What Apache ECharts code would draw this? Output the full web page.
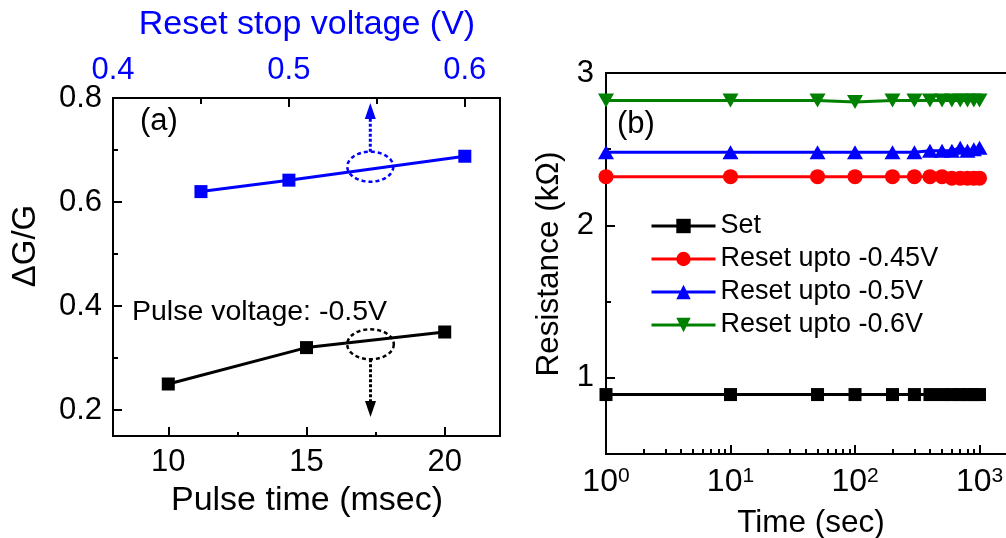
<!DOCTYPE html>
<html>
<head>
<meta charset="utf-8">
<script src="https://cdn.jsdelivr.net/npm/echarts@6/dist/echarts.min.js"></script>
<style>
html, body { margin: 0; padding: 0; background: #fff; }
#main { width: 1006px; height: 538px; }
</style>
</head>
<body>
<div id="main"></div>
<script>
// (a) dG/G vs pulse time (black) and vs reset stop voltage (blue)
var pulseTimes = [10, 15, 20];
var dgPulse = [0.25, 0.32, 0.35];
var stopVoltages = [0.45, 0.5, 0.6];
var dgReset = [0.62, 0.642, 0.688];

// (b) resistance vs time
var times = [1, 10, 50, 100, 200, 300, 400, 500, 600, 700, 800, 900, 1000];
var rSet = [0.89, 0.89, 0.89, 0.89, 0.89, 0.89, 0.89, 0.89, 0.89, 0.89, 0.89, 0.89, 0.89];
var rReset045 = [2.32, 2.32, 2.32, 2.32, 2.32, 2.32, 2.32, 2.32, 2.31, 2.31, 2.31, 2.31, 2.31];
var rReset05 = [2.48, 2.48, 2.48, 2.48, 2.48, 2.48, 2.49, 2.49, 2.49, 2.51, 2.49, 2.50, 2.51];
var rReset06 = [2.82, 2.82, 2.82, 2.81, 2.82, 2.82, 2.82, 2.82, 2.82, 2.82, 2.82, 2.82, 2.82];
var seriesNames = ['Set', 'Reset upto -0.45V', 'Reset upto -0.5V', 'Reset upto -0.6V'];

// tick values
var pulseTicks = [10, 15, 20];
var pulseMinor = [12.5, 17.5];
var voltTicks = [0.4, 0.5, 0.6];
var voltMinor = [0.45, 0.55];
var dgTicks = [0.2, 0.4, 0.6, 0.8];
var dgMinor = [0.3, 0.5, 0.7];
var resTicks = [1, 2, 3];
var resMinor = [1.5, 2.5];
var timeTicks = [1, 10, 100, 1000];
var timeMinor = [2, 3, 4, 5, 6, 7, 8, 9, 20, 30, 40, 50, 60, 70, 80, 90, 200, 300, 400, 500, 600, 700, 800, 900];
var timeMax = 2000;

var FONT = '"Liberation Sans", Arial, sans-serif';
var BLUE = '#0000ff', RED = '#ff0000', GREEN = '#008000';

function zip(xs, ys) {
  return xs.map(function (x, i) { return [x, ys[i]]; });
}
function log10(v) { return Math.log(v) / Math.LN10; }

// axis with ticks inside; labels optional
function axis(type, grid, pos, min, max, ticks, len, showLine, label) {
  var a = {
    type: type, gridIndex: grid, position: pos, min: min, max: max,
    axisLine: { show: showLine, onZero: false, lineStyle: { color: '#000', width: 2 } },
    axisTick: { show: true, inside: true, length: len, lineStyle: { color: '#000', width: 2 } },
    axisLabel: { show: false },
    splitLine: { show: false }
  };
  if (ticks) a.axisTick.customValues = ticks;
  if (label) {
    a.axisLabel = Object.assign({
      show: true, fontSize: 31, fontFamily: FONT, color: '#000', margin: 11
    }, label);
    if (ticks) a.axisLabel.customValues = ticks;
  }
  return a;
}

function ellipse(cx, cy, rx, ry, color) {
  var pts = [];
  for (var i = 0; i < 60; i++) {
    var t = i / 60 * Math.PI * 2;
    pts.push([cx + rx * Math.cos(t), cy + ry * Math.sin(t)]);
  }
  return { type: 'polygon', shape: { points: pts },
    style: { fill: 'none', stroke: color, lineWidth: 2.5, lineDash: [4, 3] }, z: 10 };
}

function arrow(x, y0, y1, color) {
  var dir = y1 > y0 ? 1 : -1;
  var head = 16;
  return [
    { type: 'line', shape: { x1: x, y1: y0, x2: x, y2: y1 - dir * head },
      style: { stroke: color, lineWidth: 3, lineDash: [3, 2] }, z: 10 },
    { type: 'polygon', shape: { points: [[x, y1], [x - 5.5, y1 - dir * head], [x + 5.5, y1 - dir * head]] },
      style: { fill: color }, z: 10 }
  ];
}

function txt(s, x, y, size, opts) {
  opts = opts || {};
  return {
    type: 'text', x: x, y: y, rotation: opts.rot || 0, z: 10,
    style: {
      text: s, fontSize: size, fontFamily: FONT, fill: opts.color || '#000',
      align: opts.align || 'center', verticalAlign: 'middle',
      textAlign: opts.align || 'center', textVerticalAlign: 'middle'
    }
  };
}

var chart = echarts.init(document.getElementById('main'), null, { renderer: 'canvas' });

var graphics = [
  txt('Reset stop voltage (V)', 307, 25, 34, { color: BLUE }),
  txt('Pulse time (msec)', 307, 501, 34),
  txt('\u0394G/G', 26, 246, 33, { rot: Math.PI / 2 }),
  txt('(a)', 140, 121, 31, { align: 'left' }),
  txt('Pulse voltage: -0.5V', 132, 312, 28.5, { align: 'left' }),
  txt('Time (sec)', 811, 523, 31.5),
  txt('Resistance (k\u03A9)', 549, 264, 31.5, { rot: Math.PI / 2 }),
  txt('(b)', 617, 124, 31, { align: 'left' }),
  ellipse(370.3, 166.7, 23, 15, BLUE),
  ellipse(370.5, 344.3, 23.3, 15, '#000')
].concat(arrow(370.3, 151.7, 103, BLUE)).concat(arrow(370.5, 359.3, 417, '#000'));

var option = {
  animation: false,
  backgroundColor: '#fff',
  textStyle: { fontFamily: FONT },
  grid: [
    { left: 113, top: 98, width: 387, height: 338, show: true, borderColor: '#000', borderWidth: 2,
      containLabel: false, outerBoundsMode: 'none' },
    { left: 606, top: 73, width: 411, height: 381, show: true, borderColor: '#000', borderWidth: 2,
      containLabel: false, outerBoundsMode: 'none' }
  ],
  legend: {
    data: seriesNames, orient: 'vertical', left: 645, top: 207,
    itemWidth: 64, itemHeight: 18, itemGap: 5,
    lineStyle: { width: 3 },
    textStyle: { fontSize: 27, fontFamily: FONT, color: '#000', lineHeight: 28 },
    selectedMode: false
  },
  xAxis: [
    axis('value', 0, 'bottom', 8, 22, pulseTicks, 9, true, { margin: 11 }),
    axis('value', 0, 'bottom', 8, 22, pulseMinor, 4, false, null),
    axis('value', 0, 'top', 0.4, 0.62, voltTicks, 9, true,
      { color: BLUE, margin: 12, formatter: function (v) { return v.toFixed(1); } }),
    axis('value', 0, 'top', 0.4, 0.62, voltMinor, 6, false, null),
    {
      type: 'log', logBase: 10, gridIndex: 1, position: 'bottom', min: 1, max: timeMax,
      axisLine: { show: true, onZero: false, lineStyle: { color: '#000', width: 2 } },
      axisTick: { show: false },
      splitLine: { show: false },
      axisLabel: {
        show: true, margin: 12, color: '#000', fontFamily: FONT,
        formatter: function (v) {
          var e = Math.round(log10(v));
          if (Math.abs(Math.pow(10, e) - v) > 1e-6 * v) return '';
          return '{b|10}{s|' + e + '}';
        },
        rich: {
          b: { fontSize: 32, fontFamily: FONT, color: '#000' },
          s: { fontSize: 21, fontFamily: FONT, color: '#000', verticalAlign: 'top' }
        }
      }
    },
    // decade and sub-decade ticks, placed on a log-space value axis
    axis('value', 1, 'bottom', 0, log10(timeMax), timeTicks.map(log10), 9, false, null),
    axis('value', 1, 'bottom', 0, log10(timeMax), timeMinor.map(log10), 5, false, null)
  ],
  yAxis: [
    axis('value', 0, 'left', 0.15, 0.8, dgTicks, 9, true,
      { margin: 11, formatter: function (v) { return v.toFixed(1); } }),
    axis('value', 0, 'left', 0.15, 0.8, dgMinor, 5, false, null),
    axis('value', 1, 'left', 0.5, 3, resTicks, 9, true, { margin: 12 }),
    axis('value', 1, 'left', 0.5, 3, resMinor, 5, false, null)
  ],
  series: [
    { name: 'pulse', type: 'line', xAxisIndex: 0, yAxisIndex: 0, data: zip(pulseTimes, dgPulse),
      symbol: 'rect', symbolSize: 13, color: '#000', lineStyle: { color: '#000', width: 3 }, z: 5 },
    { name: 'reset', type: 'line', xAxisIndex: 2, yAxisIndex: 0, data: zip(stopVoltages, dgReset),
      symbol: 'rect', symbolSize: 13, color: BLUE, lineStyle: { color: BLUE, width: 3 }, z: 5 },
    { name: seriesNames[0], type: 'line', xAxisIndex: 4, yAxisIndex: 2, data: zip(times, rSet),
      symbol: 'rect', symbolSize: 13, color: '#000', lineStyle: { color: '#000', width: 3 } },
    { name: seriesNames[1], type: 'line', xAxisIndex: 4, yAxisIndex: 2, data: zip(times, rReset045),
      symbol: 'circle', symbolSize: 15, color: RED, lineStyle: { color: RED, width: 3 } },
    { name: seriesNames[2], type: 'line', xAxisIndex: 4, yAxisIndex: 2, data: zip(times, rReset05),
      symbol: 'triangle', symbolSize: [16, 14], color: BLUE, lineStyle: { color: BLUE, width: 3 } },
    { name: seriesNames[3], type: 'line', xAxisIndex: 4, yAxisIndex: 2, data: zip(times, rReset06),
      symbol: 'triangle', symbolRotate: 180, symbolSize: [16, 14], color: GREEN,
      lineStyle: { color: GREEN, width: 3 } }
  ],
  graphic: graphics
};

chart.setOption(option);
</script>
</body>
</html>
